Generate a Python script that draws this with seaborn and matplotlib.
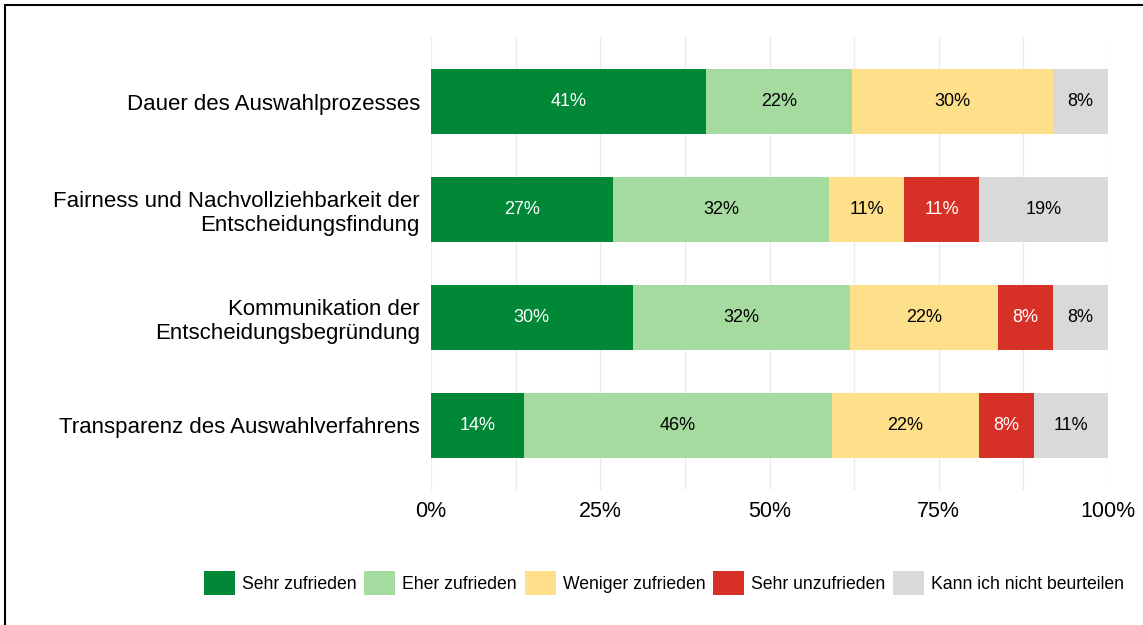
import matplotlib
matplotlib.use("Agg")
import matplotlib.pyplot as plt
import seaborn as sns
import pandas as pd
from matplotlib.patches import Rectangle, Patch

# Daten (Anteile in %)
kategorien = [
    'Dauer des Auswahlprozesses',
    'Fairness und Nachvollziehbarkeit der\nEntscheidungsfindung',
    'Kommunikation der\nEntscheidungsbegründung',
    'Transparenz des Auswahlverfahrens',
]
antworten = ['Sehr zufrieden', 'Eher zufrieden', 'Weniger zufrieden',
             'Sehr unzufrieden', 'Kann ich nicht beurteilen']
sehr_zufrieden = [40.6, 26.9, 29.8, 13.7]
eher_zufrieden = [21.6, 31.9, 32.1, 45.6]
weniger_zufrieden = [29.7, 11.1, 21.9, 21.6]
sehr_unzufrieden = [0.0, 11.0, 8.1, 8.2]
nicht_beurteilen = [8.1, 19.1, 8.1, 10.9]
farben = ['#008837', '#a6dba0', '#fee08b', '#d73027', '#d9d9d9']
textfarben = ['white', 'black', 'black', 'white', 'black']

df = pd.DataFrame({
    'kategorie': kategorien,
    antworten[0]: sehr_zufrieden,
    antworten[1]: eher_zufrieden,
    antworten[2]: weniger_zufrieden,
    antworten[3]: sehr_unzufrieden,
    antworten[4]: nicht_beurteilen,
})
kumuliert = df[antworten].cumsum(axis=1)

sns.set_style('white')
plt.rcParams['font.family'] = ['Liberation Sans', 'DejaVu Sans']

fig = plt.figure(figsize=(11.43, 6.25), dpi=100)
ax = fig.add_axes([431 / 1143, 1 - 490 / 625, (1108 - 431) / 1143, (490 - 37) / 625])

# gestapelte Balken: von hinten (Summe) nach vorne zeichnen
for i in reversed(range(len(antworten))):
    sns.barplot(x=kumuliert[antworten[i]], y=df['kategorie'], color=farben[i],
                orient='h', width=0.6, saturation=1, linewidth=0, ax=ax, zorder=2)

# Beschriftungen
for i, a in enumerate(antworten):
    for j in range(len(kategorien)):
        wert = df[a][j]
        if wert < 1:
            continue
        xpos = kumuliert[a][j] - wert / 2
        ax.text(xpos, j, f'{round(wert):.0f}%', ha='center', va='center',
                color=textfarben[i], fontsize=13, zorder=3)

ax.set_xlim(0, 100)
ax.set_ylim(3.6, -0.6)
ax.set_xticks([0, 25, 50, 75, 100])
ax.set_xticklabels(['0%', '25%', '50%', '75%', '100%'])
ax.set_xticks([12.5, 37.5, 62.5, 87.5], minor=True)
ax.grid(axis='x', which='both', color='#ebebeb', linewidth=1, zorder=0)
ax.set_axisbelow(True)
ax.set_xlabel('')
ax.set_ylabel('')
for s in ax.spines.values():
    s.set_visible(False)
ax.tick_params(axis='both', which='major', length=4, width=1, color='#333333',
               labelcolor='black', labelsize=16, pad=4)
ax.tick_params(axis='x', which='minor', length=0)
ax.tick_params(axis='x', labelsize=15.5)

# Legende
handles = [Patch(facecolor=f, edgecolor='none') for f in farben]
fig.legend(handles, antworten, loc='center', bbox_to_anchor=(664 / 1143, 1 - 583 / 625),
           ncol=5, frameon=False, fontsize=12.7, handlelength=1.75, handleheight=1.75,
           handletextpad=0.4, columnspacing=0.45, borderaxespad=0, labelcolor='black')

# Rahmen
fig.patches.append(Rectangle((5 / 1143, -0.1), 1.2, 1.1 - 5 / 625, transform=fig.transFigure,
                             fill=False, edgecolor='black', linewidth=1.5))

fig.savefig('out.png', dpi=100)
